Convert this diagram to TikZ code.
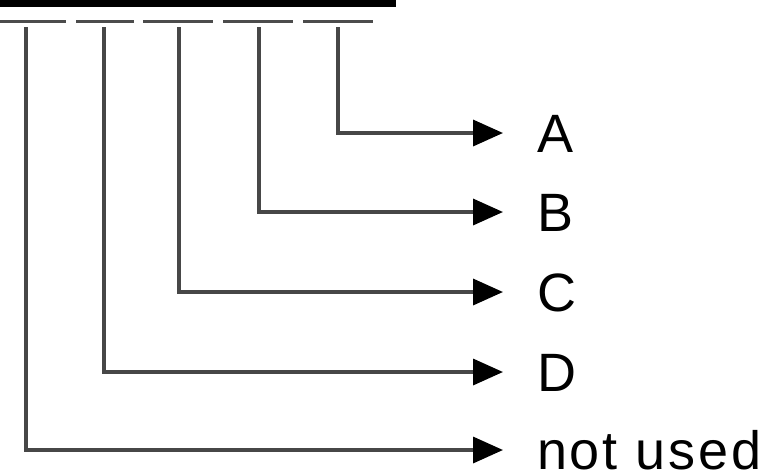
\documentclass[tikz,border=0pt]{standalone}
\usepackage{fontspec}
\setmainfont{Liberation Sans}
\usetikzlibrary{arrows.meta}

\begin{document}
\begin{tikzpicture}[
    x=1pt, y=-1pt,
    >={Triangle[length=30pt, width=26pt, color=black]},
    pad/.style={draw=black!70, line width=3pt},
    wire/.style={->, draw=black!72, line width=3.5pt},
    lbl/.style={anchor=west, inner sep=0pt, outer xsep=34pt, text height=39pt, text depth=0pt, font=\fontsize{54}{60}\selectfont}
]
\useasboundingbox (0,0) rectangle (770,475);

% connector body
\fill[black] (0,0) rectangle (396,7);

% pads
\draw[pad] (0,21) -- (66,21);
\draw[pad] (76,21) -- (134,21);
\draw[pad] (143,21) -- (213,21);
\draw[pad] (223,21) -- (293,21);
\draw[pad] (303,21) -- (373,21);

% pins
\coordinate (p5) at (26,27);
\coordinate (p4) at (104,27);
\coordinate (p3) at (179,27);
\coordinate (p2) at (259,27);
\coordinate (p1) at (338,27);

% labels
\node[lbl] (A) at (503,133) {A};
\node[lbl] (B) at (503,212) {B};
\node[lbl] (C) at (503,292) {C};
\node[lbl] (D) at (503,372) {D};
\node[lbl] (nu) at (503,450) {\addfontfeature{LetterSpace=5.5}not used};

% pins -> labels
\draw[wire] (p1) |- (A);
\draw[wire] (p2) |- (B);
\draw[wire] (p3) |- (C);
\draw[wire] (p4) |- (D);
\draw[wire] (p5) |- (nu);

\end{tikzpicture}
\end{document}
